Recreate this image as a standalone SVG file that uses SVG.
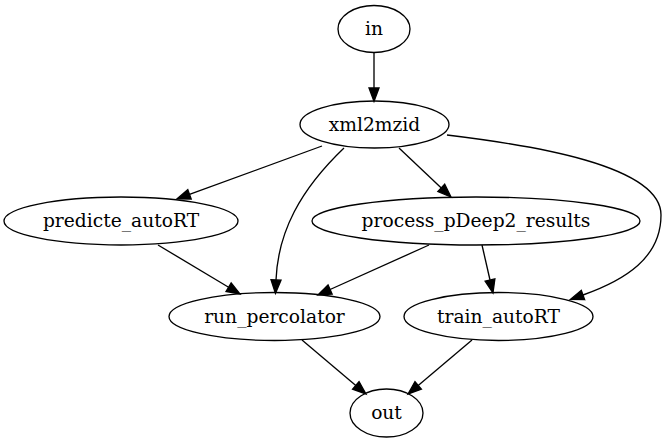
<svg xmlns="http://www.w3.org/2000/svg" width="667" height="443" viewBox="0 0 667 443">
<style>
.node ellipse{fill:none;stroke:#000;stroke-width:1.33}
.node text{font-family:"DejaVu Serif",serif;font-size:18.67px;text-anchor:middle;fill:#000}
.edges path{fill:none;stroke:#000;stroke-width:1.33;marker-end:url(#arr)}
</style>
<defs>
<marker id="arr" markerUnits="userSpaceOnUse" markerWidth="16" markerHeight="12" refX="0" refY="0" orient="auto" overflow="visible">
<polygon points="0,-5 13.3,0 0,5" fill="#000" stroke="#000" stroke-width="1.33"/>
</marker>
</defs>
<rect width="667" height="443" fill="#fff"/>
<g class="edges">
<path d="M374,53 L374,88"/>
<path d="M322,146 L189.5,194.4"/>
<path d="M344,148 C300,190 278,232 276,280"/>
<path d="M399,148 L441.3,187.9"/>
<path d="M447,135 C530,145 661,165 661,215 C661,258 625,280 583,295"/>
<path d="M158,245 L228.6,287.2"/>
<path d="M429,245 L330.1,289.5"/>
<path d="M482,245 L490,280"/>
<path d="M302,340 L355.8,385.4"/>
<path d="M472,340 L418.2,385.4"/>
</g>
<g id="in" class="node"><ellipse cx="374" cy="29" rx="36" ry="23.5"/><text x="374" y="35">in</text></g>
<g id="xml2mzid" class="node"><ellipse cx="374.5" cy="124.5" rx="74.5" ry="23.5"/><text x="374.5" y="130.5">xml2mzid</text></g>
<g id="predicte_autoRT" class="node"><ellipse cx="121" cy="221" rx="117" ry="24"/><text x="121" y="227">predicte_autoRT</text></g>
<g id="process_pDeep2_results" class="node"><ellipse cx="476" cy="221" rx="164" ry="24"/><text x="476" y="227">process_pDeep2_results</text></g>
<g id="run_percolator" class="node"><ellipse cx="274.5" cy="316.5" rx="105.5" ry="24"/><text x="274.5" y="322.5">run_percolator</text></g>
<g id="train_autoRT" class="node"><ellipse cx="498.5" cy="316.5" rx="94.5" ry="24"/><text x="498.5" y="322.5">train_autoRT</text></g>
<g id="out" class="node"><ellipse cx="386.5" cy="413" rx="36.5" ry="24"/><text x="386.5" y="419">out</text></g>
</svg>
